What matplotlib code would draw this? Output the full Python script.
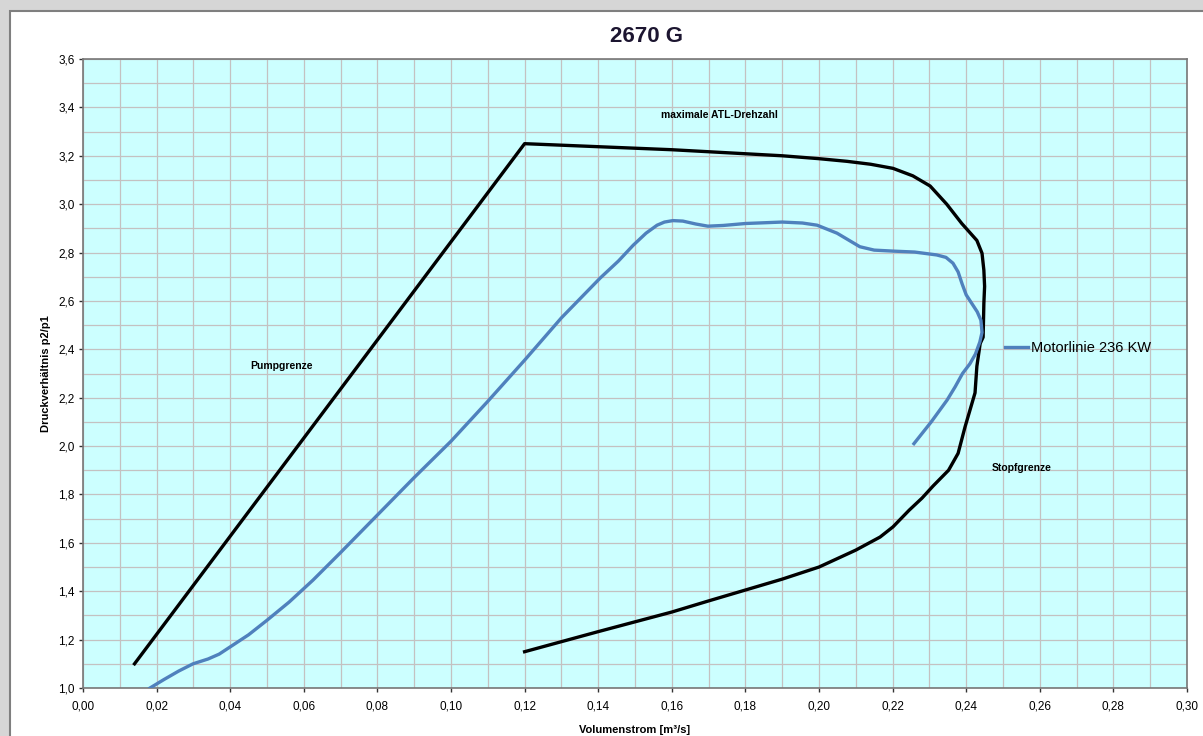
import matplotlib.pyplot as plt
import matplotlib.ticker as mticker
from matplotlib.patches import Rectangle
from matplotlib.lines import Line2D

plt.rcParams['font.family'] = ['Liberation Sans', 'DejaVu Sans']

# Kennfeldgrenze (Pumpgrenze, max. Drehzahl, Stopfgrenze)
grenze_x = [0.014, 0.12, 0.16, 0.19, 0.20, 0.2076, 0.2140, 0.2201, 0.2255, 0.2302,
            0.2347, 0.2388, 0.2429, 0.2443, 0.2448, 0.2450, 0.2448, 0.2446, 0.2438,
            0.2429, 0.2424, 0.2397, 0.2378, 0.2352, 0.231, 0.228, 0.2245, 0.2201,
            0.2166, 0.21, 0.205, 0.20, 0.19, 0.18, 0.17, 0.16, 0.14, 0.12]
grenze_y = [1.10, 3.25, 3.225, 3.20, 3.188, 3.177, 3.165, 3.148, 3.117, 3.075,
            3.00, 2.92, 2.85, 2.797, 2.727, 2.66, 2.59, 2.45, 2.424,
            2.33, 2.22, 2.08, 1.97, 1.90, 1.835, 1.785, 1.735, 1.666,
            1.624, 1.57, 1.535, 1.50, 1.45, 1.405, 1.36, 1.314, 1.233, 1.15]

# Motorlinie 236 KW
motor_x = [0.0182, 0.022, 0.026, 0.0299, 0.034, 0.037, 0.040, 0.045, 0.050, 0.056,
           0.0625, 0.07, 0.08, 0.09, 0.10, 0.11, 0.12, 0.13, 0.1405, 0.1455,
           0.1495, 0.153, 0.156, 0.158, 0.1603, 0.163, 0.1665, 0.1698, 0.174, 0.180,
           0.190, 0.1955, 0.1995, 0.2049, 0.2111, 0.215, 0.220, 0.226, 0.232, 0.2345,
           0.2364, 0.2378, 0.2389, 0.240, 0.2415, 0.243, 0.2440, 0.2443, 0.2437, 0.2425,
           0.241, 0.239, 0.237, 0.2348, 0.2305, 0.2258]
motor_y = [1.0, 1.035, 1.07, 1.10, 1.12, 1.14, 1.17, 1.22, 1.28, 1.355,
           1.446, 1.56, 1.715, 1.87, 2.02, 2.185, 2.355, 2.53, 2.694, 2.765,
           2.83, 2.88, 2.913, 2.926, 2.932, 2.93, 2.918, 2.909, 2.912, 2.92,
           2.926, 2.922, 2.913, 2.88, 2.824, 2.81, 2.806, 2.802, 2.79, 2.78,
           2.756, 2.72, 2.67, 2.625, 2.59, 2.555, 2.52, 2.47, 2.43, 2.38,
           2.34, 2.30, 2.245, 2.19, 2.10, 2.01]

fig = plt.figure(figsize=(12.03, 7.36), dpi=100)
fig.patch.set_facecolor('#D6D6D6')
# white chart area with grey frame
frame = Rectangle((10 / 1203, -0.1), 1.2, (736 - 11) / 736 + 0.1,
                  transform=fig.transFigure, facecolor='white',
                  edgecolor='#7F7F7F', linewidth=1.5, zorder=-5)
fig.add_artist(frame)

ax = fig.add_axes([83 / 1203, 48 / 736, 1104 / 1203, 629 / 736])
ax.set_zorder(2)
ax.set_facecolor('#CCFFFF')

ax.plot(grenze_x, grenze_y, color='black', linewidth=2.4, zorder=3,
        solid_joinstyle='round')
ax.plot(motor_x, motor_y, color='#4F81BD', linewidth=2.4, zorder=4,
        solid_joinstyle='round')

ax.set_xlim(0, 0.30)
ax.set_ylim(1.0, 3.6)
ax.xaxis.set_major_locator(mticker.MultipleLocator(0.02))
ax.xaxis.set_minor_locator(mticker.MultipleLocator(0.01))
ax.yaxis.set_major_locator(mticker.MultipleLocator(0.2))
ax.yaxis.set_minor_locator(mticker.MultipleLocator(0.1))
ax.xaxis.set_major_formatter(mticker.FuncFormatter(lambda v, p: f'{v:.2f}'.replace('.', ',')))
ax.yaxis.set_major_formatter(mticker.FuncFormatter(lambda v, p: f'{v:.1f}'.replace('.', ',')))
ax.grid(which='both', color='#C4C1C1', linewidth=0.9, zorder=1)
ax.set_axisbelow(True)
ax.tick_params(which='major', direction='out', length=3, width=1, labelsize=8.5,
               color='#333333')
ax.tick_params(axis='y', pad=3)
ax.tick_params(axis='x', pad=6)
ax.tick_params(which='minor', length=0)
for s in ax.spines.values():
    s.set_color('#777777')
    s.set_linewidth(1.2)

ax.set_xlabel('Volumenstrom [m³/s]', fontsize=8, fontweight='bold', labelpad=9)
ax.set_ylabel('Druckverhältnis p2/p1', fontsize=8, fontweight='bold', labelpad=5)
fig.text(647 / 1203, 1 - 37 / 736, '2670 G', ha='center', va='center',
         fontsize=16, fontweight='bold', color='#1C1530')

ax.text(0.173, 3.37, 'maximale ATL-Drehzahl', fontsize=7.5, fontweight='bold', ha='center', va='center')
ax.text(0.054, 2.33, 'Pumpgrenze', fontsize=7.5, fontweight='bold', ha='center', va='center')
ax.text(0.255, 1.91, 'Stopfgrenze', fontsize=7.5, fontweight='bold', ha='center', va='center')

ax.legend(handles=[Line2D([0], [0], color='#4F81BD', linewidth=2.4)],
          labels=['Motorlinie 236 KW'], loc='center left',
          bbox_to_anchor=(0.823, 0.54), frameon=False, fontsize=10.5,
          handlelength=1.6, handletextpad=0.2)

fig.savefig('out.png', dpi=100, facecolor=fig.get_facecolor())
